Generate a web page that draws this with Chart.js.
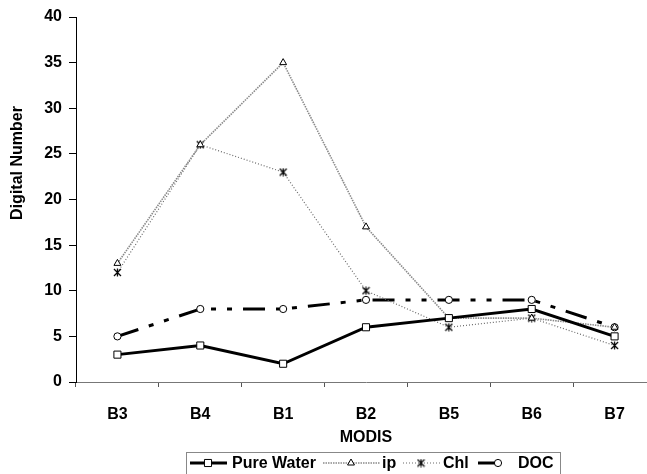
<!DOCTYPE html>
<html>
<head>
<meta charset="utf-8">
<script src="https://cdn.jsdelivr.net/npm/chart.js@4/dist/chart.umd.min.js"></script>
<style>
  html, body { margin: 0; padding: 0; background: #fff; overflow: hidden; }
  #wrap { width: 647px; height: 474px; overflow: hidden; }
  canvas { display: block; }
</style>
</head>
<body>
<div id="wrap"><canvas id="lineChart" width="680" height="474"></canvas></div>
<script>
const categories = ['B3', 'B4', 'B1', 'B2', 'B5', 'B6', 'B7'];
const pureWater = [3, 4, 2, 6, 7, 8, 5];
const ipValues = [13, 26, 35, 17, 7, 7, 6];
const chlValues = [12, 26, 23, 10, 6, 7, 4];
const docValues = [5, 8, 8, 9, 9, 9, 6];
const yTickValues = [0, 5, 10, 15, 20, 25, 30, 35, 40];
const seriesNames = ['Pure Water', 'ip', 'Chl', 'DOC'];

const FONT = 'Arial, "Liberation Sans", sans-serif';

// star marker like the spreadsheet one: an X with a vertical bar
function starMarker(){
  let c = document.createElement('canvas');
  c.width = 9; c.height = 9;
  let g = c.getContext('2d');
  g.strokeStyle = '#000';
  g.lineWidth = 1.2;
  g.beginPath();
  g.moveTo(1, 1); g.lineTo(8, 8);
  g.moveTo(8, 1); g.lineTo(1, 8);
  g.moveTo(4.5, 0.5); g.lineTo(4.5, 8.5);
  g.stroke();
  return c;
}
const star = starMarker();

const extras = {
  id: 'extras',
  afterDraw(chart){
    const ctx = chart.ctx;
    ctx.save();
    ctx.fillStyle = '#000';
    ctx.font = 'bold 16px ' + FONT;
    ctx.textAlign = 'center';
    ctx.textBaseline = 'middle';
    // axis titles
    ctx.fillText('MODIS', (chart.chartArea.left + chart.chartArea.right) / 2, 438);
    ctx.save();
    ctx.translate(18, 163);
    ctx.rotate(-Math.PI / 2);
    ctx.fillText('Digital Number', 0, 0);
    ctx.restore();

    // legend box
    ctx.strokeStyle = '#888';
    ctx.lineWidth = 1;
    ctx.strokeRect(186.5, 452.5, 374, 40);

    const starts = [190, 323, 403, 478];
    const ends = [227, 380, 440, 498];
    const markerX = [208, 351, 421, 498];
    const textX = [232, 382, 443, 518];
    const ly = 463;
    chart.data.datasets.forEach((ds, i) => {
      ctx.save();
      ctx.strokeStyle = ds.borderColor;
      ctx.lineWidth = ds.borderWidth;
      ctx.setLineDash(i == 3 ? [] : (ds.borderDash || []));
      ctx.beginPath();
      ctx.moveTo(starts[i], ly);
      ctx.lineTo(ends[i], ly);
      ctx.stroke();
      ctx.restore();
      if (Chart.helpers && Chart.helpers.drawPoint) {
        ctx.save();
        ctx.fillStyle = ds.pointBackgroundColor;
        ctx.strokeStyle = ds.pointBorderColor;
        ctx.lineWidth = ds.pointBorderWidth;
        Chart.helpers.drawPoint(ctx, {pointStyle: ds.pointStyle, radius: ds.pointRadius, rotation: 0, borderWidth: ds.pointBorderWidth}, markerX[i], ly);
        ctx.restore();
      }
      ctx.textAlign = 'left';
      ctx.fillStyle = '#000';
      ctx.fillText(ds.label, textX[i], ly + 1);
    });
    ctx.restore();
  }
};

let ctx = document.getElementById('lineChart').getContext('2d');
let lineChart = new Chart(ctx, {
  type: 'line',
  data: {
    labels: categories,
    datasets: [{
      label: seriesNames[0],
      data: pureWater,
      borderColor: '#000',
      borderWidth: 3,
      pointStyle: 'rect',
      pointRadius: 5,
      pointBackgroundColor: '#fff',
      pointBorderColor: '#000',
      pointBorderWidth: 1,
      tension: 0
    }, {
      label: seriesNames[1],
      data: ipValues,
      borderColor: '#8a8a8a',
      borderWidth: 1.6,
      borderDash: [1.5, 1],
      pointStyle: 'triangle',
      pointRadius: 4,
      pointBackgroundColor: '#fff',
      pointBorderColor: '#000',
      pointBorderWidth: 1,
      tension: 0
    }, {
      label: seriesNames[2],
      data: chlValues,
      borderColor: '#6a6a6a',
      borderWidth: 1.2,
      borderDash: [1, 2],
      pointStyle: star,
      pointRadius: 4,
      pointBackgroundColor: '#fff',
      pointBorderColor: '#000',
      pointBorderWidth: 1,
      tension: 0
    }, {
      label: seriesNames[3],
      data: docValues,
      borderColor: '#000',
      borderWidth: 3,
      borderDash: [22, 11, 5, 11, 5, 11],
      pointStyle: 'circle',
      pointRadius: 3.6,
      pointBackgroundColor: '#fff',
      pointBorderColor: '#000',
      pointBorderWidth: 1,
      tension: 0
    }]
  },
  options: {
    responsive: false,
    animation: false,
    devicePixelRatio: 1,
    layout: { padding: { left: 0, top: 17, right: 24, bottom: 0 } },
    plugins: {
      legend: { display: false },
      tooltip: { enabled: false }
    },
    scales: {
      x: {
        offset: true,
        grid: { offset: true, drawOnChartArea: false, drawTicks: true, tickLength: 5, color: '#555' },
        border: { color: '#777', width: 1 },
        ticks: { color: '#000', padding: 18, font: { family: FONT, size: 16, weight: 'bold' } },
        afterFit: s => { s.height = 92; }
      },
      y: {
        min: 0,
        max: 40,
        afterBuildTicks: s => { s.ticks = yTickValues.map(v => ({ value: v })); },
        grid: { drawOnChartArea: false, drawTicks: true, tickLength: 7, color: '#000' },
        border: { color: '#000', width: 1 },
        ticks: { color: '#000', padding: 7, font: { family: FONT, size: 16, weight: 'bold' } },
        afterFit: s => { s.width = 76; }
      }
    }
  },
  plugins: [extras]
});
</script>
</body>
</html>
